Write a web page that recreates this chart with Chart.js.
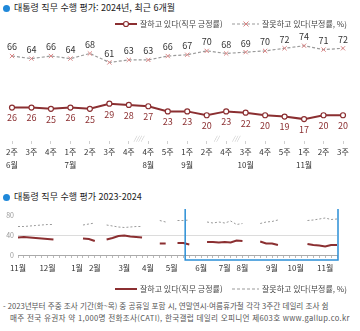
<!DOCTYPE html>
<html lang="ko">
<head>
<meta charset="utf-8">
<script src="https://cdn.jsdelivr.net/npm/chart.js@4.4.1/dist/chart.umd.min.js"></script>
<style>
  html, body { margin: 0; padding: 0; background: #fff; }
  body { width: 360px; height: 331px; position: relative; overflow: hidden;
         font-family: "Noto Sans CJK KR", "Noto Sans", sans-serif; color: #333; }
  .title { position: absolute; left: 3px; font-size: 9px; line-height: 12px; white-space: nowrap; color: #222; }
  .title .dot { display: inline-block; width: 7px; height: 7px; border-radius: 50%;
                background: #1f88d9; margin-right: 4px; vertical-align: -0.5px; }
  .note { position: absolute; font-size: 7.6px; line-height: 10px; white-space: nowrap; color: #555; }
  canvas { position: absolute; left: 0; }
</style>
</head>
<body>
<div class="title" style="top:2px"><span class="dot"></span>대통령 직무 수행 평가: 2024년, 최근 6개월</div>
<canvas id="recent" width="360" height="160" style="top:14px"></canvas>
<div class="title" style="top:191px"><span class="dot"></span>대통령 직무 수행 평가 2023-2024</div>
<canvas id="trend" width="360" height="95" style="top:205px"></canvas>
<div class="note" style="top:301px;left:3px">- 2023년부터 주중 조사 기간(화~목) 중 공휴일 포함 시, 연말연시·여름휴가철 각각 3주간 데일리 조사 쉼</div>
<div class="note" style="top:313px;left:10px;letter-spacing:0.3px">매주 전국 유권자 약 1,000명 전화조사(CATI), 한국갤럽 데일리 오피니언 제603호 www.gallup.co.kr</div>

<script>
// 최근 6개월 주간 지표
const recentWeeks = ["2주", "3주", "4주", "1주", "2주", "3주", "4주", "4주", "5주", "1주", "2주", "4주", "3주", "4주", "5주", "1주", "2주", "3주"];
const recentMonths = ["6월", "", "", "7월", "", "", "", "8월", "", "9월", "", "", "10월", "", "", "11월", "", ""];
const recentApprove = [26, 26, 25, 26, 25, 29, 28, 27, 23, 23, 20, 23, 22, 20, 19, 17, 20, 20];
const recentDisapprove = [66, 64, 66, 64, 68, 61, 63, 63, 66, 67, 70, 68, 69, 70, 72, 74, 71, 72];
// 조사 쉰 주 표시 (앞 주 인덱스 기준)
const skippedAfter = [6, 10, 11];
const skippedMarks = ["////", "//", "///"];

// 2023-2024 장기 추이 (주 단위, 빈 주는 null)
const trendMonthNames = ["11월", "12월", "1월", "2월", "3월", "4월", "5월", "6월", "7월", "8월", "9월", "10월", "11월"];
const trendMonthStart = [0, 5, 10, 13, 18, 22, 26, 31, 35, 38, 43, 47, 52];
const trendApprove = [
  35, 36, 35, 34, 33, 32, 31, null, null, null, null,
  33, 32, 28, null,
  31, 34, 38, 39, 37, 36, 35, null, null,
  23, 23, null,
  24, 24, 21, null, null,
  26, 26, 25, 26, 25, 29, 28, null, null,
  27, 23, 23, 20, null, null, null, null,
  22, 20, 19, 17, 20, 20
];
const trendDisapprove = [
  57, 57, 58, 59, 60, 61, 61, null, null, null, null,
  60, 62, 64, null,
  60, 58, 56, 55, 56, 57, 57, null, null,
  69, 66, null,
  69, 69, 70, null, null,
  66, 64, 66, 64, 68, 61, 63, null, null,
  63, 66, 67, 70, null, null, null, null,
  69, 70, 72, 74, 71, 72
];
const trendBoxFrom = 28.3; // 최근 6개월 구간 시작

const seriesNames = ["잘하고 있다(직무 긍정률)", "잘못하고 있다(부정률, %)"];

const RED = "#8b2f31";
const GRAY = "#9a9a9a";
const CROSS = "#d98585";
const FONT = '"Noto Sans CJK KR", "Noto Sans", sans-serif';

const trendWeeks = trendApprove.map((_, i) => {
  const m = trendMonthStart.indexOf(i);
  return m >= 0 ? trendMonthNames[m] : "";
});

// 선+마커 범례
const lineLegend = {
  id: "lineLegend",
  afterDraw(chart, args, opts) {
    const ctx = chart.ctx;
    const y = opts.y;
    ctx.save();
    ctx.font = "8px " + FONT;
    ctx.textBaseline = "middle";
    ctx.fillStyle = "#444";

    ctx.strokeStyle = RED;
    ctx.lineWidth = 2;
    ctx.setLineDash([]);
    ctx.beginPath();
    ctx.moveTo(115, y);
    ctx.lineTo(137, y);
    ctx.stroke();
    if (opts.markers) {
      ctx.beginPath();
      ctx.arc(126, y, 2.5, 0, Math.PI * 2);
      ctx.fillStyle = "#fff";
      ctx.fill();
      ctx.lineWidth = 1.2;
      ctx.stroke();
      ctx.fillStyle = "#444";
    }
    ctx.fillText(seriesNames[0], 140, y);

    ctx.strokeStyle = GRAY;
    ctx.lineWidth = 1.2;
    ctx.setLineDash([3, 2]);
    ctx.beginPath();
    ctx.moveTo(232, y);
    ctx.lineTo(259, y);
    ctx.stroke();
    ctx.setLineDash([]);
    if (opts.markers) {
      ctx.strokeStyle = CROSS;
      ctx.lineWidth = 1;
      ctx.beginPath();
      ctx.moveTo(243.5, y - 2.5); ctx.lineTo(248.5, y + 2.5);
      ctx.moveTo(248.5, y - 2.5); ctx.lineTo(243.5, y + 2.5);
      ctx.stroke();
    }
    ctx.fillText(seriesNames[1], 262, y);
    ctx.restore();
  }
};

// 점 위/아래 값 표시
const valueLabels = {
  id: "valueLabels",
  afterDatasetsDraw(chart) {
    const ctx = chart.ctx;
    ctx.save();
    ctx.font = "9px " + FONT;
    ctx.textAlign = "center";
    ctx.textBaseline = "middle";
    chart.data.datasets.forEach((ds, di) => {
      const meta = chart.getDatasetMeta(di);
      ctx.fillStyle = ds.labelColor;
      meta.data.forEach((pt, i) => {
        ctx.fillText(ds.data[i], pt.x, pt.y + ds.labelDy);
      });
    });
    ctx.restore();
  }
};

// 조사 쉰 주 표시
const skipMarks = {
  id: "skipMarks",
  afterDraw(chart) {
    const ctx = chart.ctx;
    const xs = chart.scales.x;
    ctx.save();
    ctx.font = "italic 6px " + FONT;
    ctx.textAlign = "center";
    ctx.textBaseline = "middle";
    ctx.fillStyle = "#b5b5b5";
    skippedAfter.forEach((w, k) => {
      ctx.fillText(skippedMarks[k], xs.getPixelForValue(w + 0.5), chart.chartArea.bottom - 2);
    });
    ctx.restore();
  }
};

// 최근 구간 파란 테두리
const recentBox = {
  id: "recentBox",
  afterDraw(chart) {
    const ctx = chart.ctx;
    const xs = chart.scales.x;
    const x1 = xs.getPixelForValue(trendBoxFrom);
    const x2 = chart.chartArea.right + 1;
    const top = chart.chartArea.top - 6;
    const bottom = chart.chartArea.bottom + 5;
    ctx.save();
    ctx.strokeStyle = "#2b8fd6";
    ctx.lineWidth = 1.5;
    ctx.beginPath();
    ctx.moveTo(x1, top);
    ctx.lineTo(x1, bottom);
    ctx.lineTo(x2, bottom);
    ctx.lineTo(x2, top);
    ctx.stroke();
    ctx.restore();
  }
};

new Chart(document.getElementById("recent"), {
  type: "line",
  data: {
    labels: recentWeeks.map((w, i) => [w, recentMonths[i]]),
    datasets: [
      {
        data: recentDisapprove,
        borderColor: GRAY,
        borderWidth: 1.2,
        borderDash: [3, 2],
        pointStyle: "crossRot",
        pointRadius: 3,
        pointBorderColor: CROSS,
        pointBorderWidth: 1,
        labelColor: "#333",
        labelDy: -9
      },
      {
        data: recentApprove,
        borderColor: RED,
        borderWidth: 2,
        pointStyle: "circle",
        pointRadius: 2.5,
        pointBackgroundColor: "#fff",
        pointBorderColor: RED,
        pointBorderWidth: 1.2,
        labelColor: RED,
        labelDy: 10.5
      }
    ]
  },
  options: {
    responsive: false,
    animation: false,
    events: [],
    layout: { padding: { top: 24, left: 12, right: 17, bottom: 0 } },
    plugins: {
      legend: { display: false },
      tooltip: { enabled: false },
      lineLegend: { y: 10, markers: true }
    },
    scales: {
      x: {
        offset: false,
        border: { display: false },
        grid: { drawOnChartArea: false, tickLength: 3, color: "#cfcfcf" },
        ticks: { autoSkip: false, maxRotation: 0, padding: 2, color: "#333",
                 font: { family: FONT, size: 8, lineHeight: 1.6 } },
        afterFit(scale) { scale.height = 33; }
      },
      y: { display: false, min: 0, max: 80 }
    }
  },
  plugins: [lineLegend, valueLabels, skipMarks]
});

new Chart(document.getElementById("trend"), {
  type: "line",
  data: {
    labels: trendWeeks,
    datasets: [
      {
        data: trendDisapprove,
        borderColor: GRAY,
        borderWidth: 1,
        borderDash: [2, 2],
        pointRadius: 0,
        spanGaps: false
      },
      {
        data: trendApprove,
        borderColor: RED,
        borderWidth: 2,
        pointRadius: 0,
        spanGaps: false
      }
    ]
  },
  options: {
    responsive: false,
    animation: false,
    events: [],
    layout: { padding: { top: 10, left: 0, right: 23, bottom: 0 } },
    plugins: {
      legend: { display: false },
      tooltip: { enabled: false },
      lineLegend: { y: 84, markers: false }
    },
    scales: {
      x: {
        offset: false,
        border: { display: true, color: "#aaa", width: 1 },
        grid: { drawOnChartArea: false, tickLength: 3, color: "#bbb" },
        ticks: { autoSkip: false, maxRotation: 0, padding: 5, color: "#333",
                 font: { family: FONT, size: 8 } },
        afterFit(scale) { scale.height = 45; }
      },
      y: {
        min: 0,
        max: 80,
        border: { display: false },
        grid: {
          drawTicks: false,
          color: (c) => (c.tick && (c.tick.value === 80 || c.tick.value === 0)) ? "rgba(0,0,0,0)" : "#dcdcdc"
        },
        ticks: { stepSize: 20, padding: 4, color: "#999", font: { family: FONT, size: 7 } },
        afterFit(scale) { scale.width = 18; }
      }
    }
  },
  plugins: [lineLegend, recentBox]
});
</script>
</body>
</html>
